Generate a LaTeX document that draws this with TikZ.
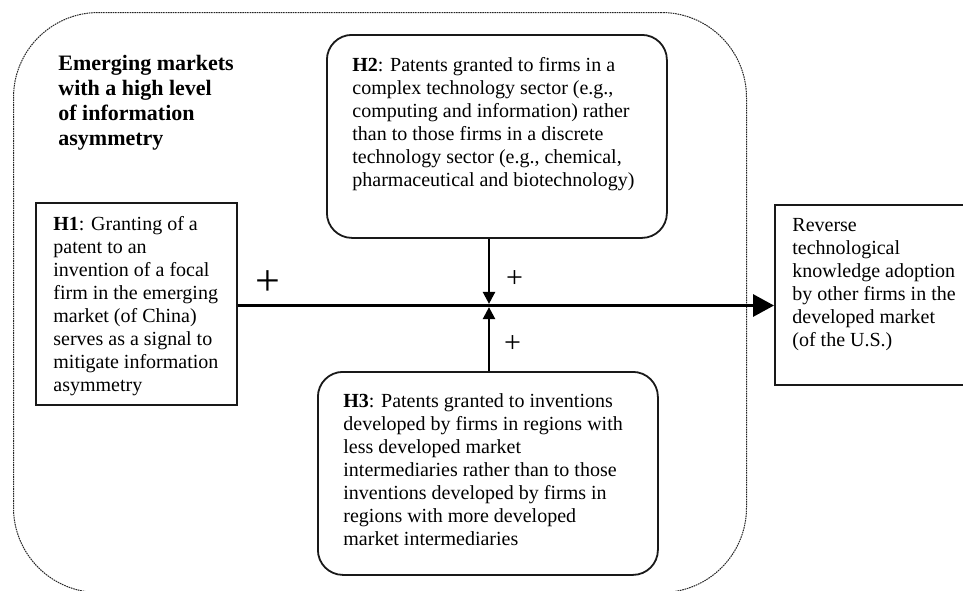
\documentclass[tikz,border=0pt]{standalone}
\usepackage{fontspec}
\setmainfont{Liberation Serif}
\usetikzlibrary{arrows.meta}
\tikzset{
  outerbox/.style={draw=black!85, line width=0.5pt, dash pattern=on 0.8pt off 0.4pt, rounded corners=42.5pt, inner sep=0pt, anchor=north west},
  rbox/.style={draw=black!90, line width=0.9pt, rounded corners=12.5pt, inner sep=0pt, anchor=north west},
  sbox/.style={draw=black!90, line width=0.8pt, inner sep=0pt, anchor=north west},
  txt/.style={font=\fontsize{10}{11.5}\selectfont, align=left, inner sep=0pt, anchor=north west},
  ttl/.style={font=\fontsize{11}{12.5}\selectfont\bfseries, align=left, inner sep=0pt, anchor=north west},
  mainarrow/.style={line width=1.6pt, -{Triangle[length=10.5pt,width=11pt]}},
  varrow/.style={line width=1.2pt, -{Triangle[length=6pt,width=6pt]}},
  bigplus/.style={font=\fontsize{22}{22}\selectfont, inner sep=0pt},
  smallplus/.style={font=\fontsize{15}{15}\selectfont, inner sep=0pt}
}
\begin{document}
\begin{tikzpicture}[x=0.5pt,y=-0.5pt]
\useasboundingbox (0,0) rectangle (963,590);
% outer region
\node[outerbox, minimum width=366.5pt, minimum height=290pt] (em) at (13,12) {};
\node[ttl] (emt) at (58,52.5) {\strut Emerging markets\\with a high level\\of information\\asymmetry};
% boxes
\node[sbox, minimum width=100.5pt, minimum height=101pt] (h1) at (35,202) {};
\node[rbox, minimum width=170pt, minimum height=101.5pt] (h2) at (326,34) {};
\node[rbox, minimum width=170pt, minimum height=101.5pt] (h3) at (317,371) {};
\node[sbox, minimum width=96pt, minimum height=90pt] (rt) at (774,204) {};
% texts
\node[txt] (h1t) at (53,213.9) {\strut\textbf{H1}: Granting of a\\patent to an\\invention of a focal\\firm in the emerging\\market (of China)\\serves as a signal to\\mitigate information\\asymmetry};
\node[txt] (h2t) at (352,54.9) {\strut\textbf{H2}: Patents granted to firms in a\\complex technology sector (e.g.,\\computing and information) rather\\than to those firms in a discrete\\technology sector (e.g., chemical,\\pharmaceutical and biotechnology)};
\node[txt] (h3t) at (343,390.9) {\strut\textbf{H3}: Patents granted to inventions\\developed by firms in regions with\\less developed market\\intermediaries rather than to those\\inventions developed by firms in\\regions with more developed\\market intermediaries};
\node[txt] (rtt) at (792,214.9) {\strut Reverse\\technological\\knowledge adoption\\by other firms in the\\developed market\\(of the U.S.)};
% connectors
\coordinate (j) at (489,305.5);
\draw[mainarrow] (h1.east |- j) -- (rt.west |- j);
\draw[varrow] (h2.south -| j) -- ([yshift=0.8pt]j);
\draw[varrow] (h3.north -| j) -- ([yshift=-0.8pt]j);
% signs
\node[bigplus] (p1) at (268,283) {+};
\node[smallplus] (p2) at (514.5,279) {+};
\node[smallplus] (p3) at (512.5,344.5) {+};
\end{tikzpicture}
\end{document}
